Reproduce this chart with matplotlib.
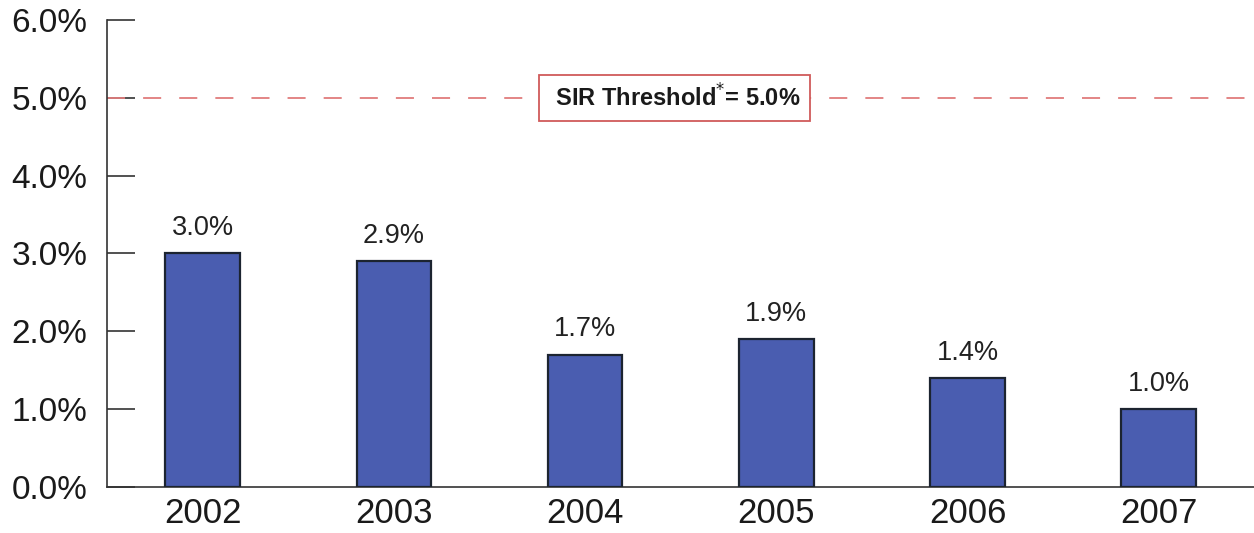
import matplotlib.pyplot as plt

# data
years = ['2002', '2003', '2004', '2005', '2006', '2007']
rates = [3.0, 2.9, 1.7, 1.9, 1.4, 1.0]
threshold = 5.0
yticks = [0, 1, 2, 3, 4, 5, 6]

plt.rcParams['font.family'] = ['Liberation Sans', 'DejaVu Sans']

fig = plt.figure(figsize=(12.54, 5.33), dpi=100)
ax = fig.add_axes([0.0853, 0.0863, 0.915, 0.8762])

x = range(len(years))
ax.bar(x, rates, width=0.39, color='#4a5db0', edgecolor='#1c2430', linewidth=1.6, zorder=3)

for xi, v in zip(x, rates):
    ax.text(xi, v + 0.16, f'{v:.1f}%', ha='center', va='bottom', fontsize=19.5, color='#222222')

# threshold line
ax.axhline(threshold, color='#e07c7c', linestyle=(0, (10, 10)), linewidth=1.3, zorder=2)
ax.text(2.47, threshold, ' SIR Threshold$^{*}$= 5.0% ', ha='center', va='center',
        fontsize=17, fontweight='bold', color='#1a1a1a', zorder=4,
        bbox=dict(boxstyle='square,pad=0.4', facecolor='white', edgecolor='#d05a5a', linewidth=1.3))

ax.set_xlim(-0.5, 5.5)
ax.set_ylim(0, 6)
ax.set_yticks(yticks)
ax.set_yticklabels([f'{t:.1f}%' for t in yticks], fontsize=24, color='#1a1a1a')
ax.set_xticks(list(x))
ax.set_xticklabels(years, fontsize=25, color='#1a1a1a')

ax.tick_params(axis='y', direction='in', length=20, width=1.2, pad=14, color='#333333')
ax.tick_params(axis='x', length=0, pad=7)

for s in ['top', 'right']:
    ax.spines[s].set_visible(False)
ax.spines['left'].set_color('#333333')
ax.spines['bottom'].set_color('#333333')
ax.spines['left'].set_linewidth(1.2)
ax.spines['bottom'].set_linewidth(1.2)

fig.savefig('out.png', dpi=100)
